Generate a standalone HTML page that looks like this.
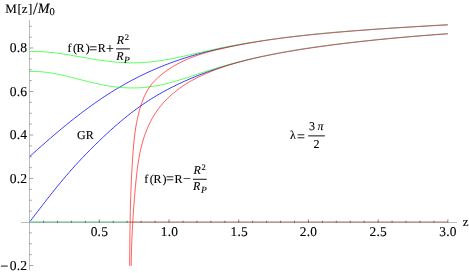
<!DOCTYPE html>
<html><head><meta charset="utf-8"><title>plot</title>
<style>html,body{margin:0;padding:0;background:#fff;}body{width:469px;height:273px;overflow:hidden;font-family:"Liberation Serif",serif;}svg{display:block;}</style>
</head><body>
<div style="will-change:transform;width:469px;height:273px">
<svg width="469" height="273" viewBox="0 0 469 273">
<rect width="469" height="273" fill="#fff"/>
<defs><linearGradient id="gg" gradientUnits="userSpaceOnUse" x1="215" y1="0" x2="265" y2="0"><stop offset="0" stop-color="#00ff00"/><stop offset="1" stop-color="#00ff00" stop-opacity="0.6"/></linearGradient><linearGradient id="gb" gradientUnits="userSpaceOnUse" x1="215" y1="0" x2="265" y2="0"><stop offset="0" stop-color="#0000ff"/><stop offset="1" stop-color="#0000ff" stop-opacity="0.5"/></linearGradient><linearGradient id="gr" gradientUnits="userSpaceOnUse" x1="215" y1="0" x2="265" y2="0"><stop offset="0" stop-color="#ff0000"/><stop offset="1" stop-color="#ff0000" stop-opacity="0.78"/></linearGradient></defs>
<g fill="none" stroke-width="0.65" stroke-linecap="butt" stroke-linejoin="round">
<path stroke="url(#gb)" stroke-width="0.8" d="M29.85 156.41 L31.13 155.25 L32.41 154.09 L33.70 152.93 L34.99 151.78 L36.28 150.62 L37.57 149.46 L38.87 148.31 L40.17 147.16 L41.47 146.00 L42.77 144.85 L44.07 143.71 L45.38 142.56 L46.69 141.41 L48.00 140.27 L49.32 139.13 L50.63 137.99 L51.95 136.86 L53.27 135.72 L54.60 134.59 L55.93 133.46 L57.26 132.34 L58.59 131.22 L59.93 130.10 L61.26 128.98 L62.61 127.87 L63.95 126.76 L65.30 125.65 L66.65 124.55 L68.00 123.45 L69.36 122.35 L70.72 121.26 L72.09 120.18 L73.45 119.09 L74.82 118.01 L76.20 116.94 L77.58 115.87 L78.96 114.81 L80.34 113.75 L81.73 112.69 L83.12 111.64 L84.52 110.60 L85.92 109.56 L87.32 108.52 L88.73 107.49 L90.14 106.47 L91.55 105.45 L92.97 104.44 L94.39 103.44 L95.82 102.44 L97.25 101.44 L98.69 100.46 L100.12 99.48 L101.57 98.50 L103.02 97.53 L104.47 96.57 L105.92 95.62 L107.38 94.67 L108.85 93.73 L110.32 92.80 L111.79 91.88 L113.27 90.96 L114.76 90.05 L116.24 89.15 L117.74 88.25 L119.23 87.36 L120.73 86.49 L122.24 85.61 L123.75 84.75 L125.27 83.89 L126.78 83.05 L128.31 82.21 L129.84 81.38 L131.37 80.55 L132.91 79.74 L134.45 78.93 L135.99 78.13 L137.54 77.35 L139.10 76.56 L140.65 75.79 L142.22 75.03 L143.78 74.27 L145.36 73.53 L146.93 72.79 L148.51 72.06 L150.10 71.34 L151.68 70.63 L153.27 69.93 L154.87 69.24 L156.47 68.55 L158.07 67.88 L159.68 67.21 L161.29 66.55 L162.90 65.90 L164.52 65.26 L166.14 64.63 L167.77 64.00 L169.40 63.39 L171.03 62.78 L172.66 62.18 L174.30 61.59 L175.94 61.01 L177.58 60.43 L179.23 59.87 L180.88 59.31 L182.53 58.76 L184.19 58.22 L185.84 57.69 L187.50 57.17 L189.17 56.65 L190.83 56.15 L192.50 55.65 L194.17 55.16 L195.84 54.68 L197.52 54.20 L199.19 53.74 L200.87 53.28 L202.56 52.83 L204.24 52.39 L205.92 51.95 L207.61 51.52 L209.30 51.10 L210.99 50.69 L212.68 50.28 L214.38 49.88 L216.07 49.49 L217.77 49.10 L219.47 48.72 L221.17 48.34 L222.87 47.97 L224.58 47.61 L226.28 47.25 L227.99 46.90 L229.69 46.56 L231.40 46.21 L233.11 45.88 L234.82 45.55 L236.53 45.22 L238.24 44.90 L239.95 44.58 L241.67 44.27 L243.38 43.96 L245.10 43.65 L246.81 43.35 L248.53 43.06 L250.24 42.76 L251.96 42.47 L253.68 42.19 L255.39 41.91 L257.11 41.63 L258.83 41.35 L260.55 41.08 L262.27 40.82 L263.99 40.55 L265.71 40.29 L267.43 40.04 L269.15 39.78 L270.88 39.53 L272.60 39.29 L274.32 39.04 L276.05 38.80 L277.77 38.57 L279.50 38.33 L281.22 38.10 L282.95 37.88 L284.67 37.65 L286.40 37.43 L288.12 37.22 L289.85 37.00 L291.58 36.79 L293.31 36.58 L295.04 36.37 L296.76 36.17 L298.49 35.97 L300.22 35.77 L301.95 35.58 L303.68 35.38 L305.41 35.19 L307.14 35.01 L308.88 34.82 L310.61 34.64 L312.34 34.46 L314.07 34.28 L315.80 34.11 L317.54 33.93 L319.27 33.76 L321.00 33.60 L322.73 33.43 L324.47 33.27 L326.20 33.10 L327.94 32.94 L329.67 32.79 L331.41 32.63 L333.14 32.48 L334.87 32.32 L336.61 32.17 L338.35 32.03 L340.08 31.88 L341.82 31.74 L343.55 31.59 L345.29 31.45 L347.03 31.31 L348.76 31.17 L350.50 31.04 L352.24 30.90 L353.97 30.77 L355.71 30.64 L357.45 30.51 L359.18 30.38 L360.92 30.25 L362.66 30.12 L364.40 30.00 L366.13 29.88 L367.87 29.75 L369.61 29.63 L371.35 29.51 L373.08 29.39 L374.82 29.27 L376.56 29.15 L378.30 29.04 L380.04 28.92 L381.77 28.81 L383.51 28.69 L385.25 28.58 L386.99 28.47 L388.73 28.35 L390.46 28.24 L392.20 28.13 L393.94 28.02 L395.68 27.91 L397.42 27.80 L399.15 27.69 L400.89 27.59 L402.63 27.48 L404.37 27.37 L406.10 27.26 L407.84 27.16 L409.58 27.05 L411.32 26.94 L413.05 26.83 L414.79 26.73 L416.53 26.62 L418.26 26.51 L420.00 26.41 L421.74 26.30 L423.47 26.19 L425.21 26.09 L426.95 25.98 L428.68 25.87 L430.42 25.77 L432.15 25.66 L433.89 25.55 L435.62 25.44 L437.36 25.33 L439.09 25.22 L440.83 25.11 L442.56 25.00 L444.29 24.89 L446.03 24.78 L447.76 24.66"/>
<path stroke="url(#gb)" stroke-width="0.8" d="M29.77 221.86 L30.89 220.38 L32.01 218.90 L33.13 217.42 L34.25 215.94 L35.38 214.46 L36.50 212.98 L37.63 211.51 L38.75 210.03 L39.88 208.56 L41.01 207.08 L42.14 205.61 L43.27 204.14 L44.41 202.67 L45.55 201.21 L46.68 199.75 L47.83 198.28 L48.97 196.83 L50.12 195.37 L51.27 193.92 L52.42 192.46 L53.58 191.02 L54.74 189.57 L55.91 188.13 L57.07 186.69 L58.25 185.26 L59.42 183.83 L60.60 182.40 L61.79 180.97 L62.98 179.55 L64.17 178.14 L65.37 176.73 L66.57 175.32 L67.78 173.92 L68.99 172.52 L70.21 171.12 L71.44 169.73 L72.67 168.35 L73.91 166.97 L75.15 165.60 L76.40 164.23 L77.65 162.87 L78.91 161.51 L80.17 160.15 L81.44 158.80 L82.72 157.46 L84.00 156.12 L85.29 154.78 L86.58 153.45 L87.87 152.12 L89.17 150.80 L90.48 149.48 L91.79 148.17 L93.10 146.86 L94.43 145.56 L95.75 144.26 L97.08 142.96 L98.41 141.67 L99.75 140.38 L101.09 139.09 L102.44 137.81 L103.79 136.54 L105.15 135.27 L106.51 134.00 L107.87 132.74 L109.24 131.48 L110.62 130.23 L112.00 128.99 L113.39 127.75 L114.78 126.52 L116.18 125.29 L117.58 124.08 L118.99 122.86 L120.40 121.66 L121.82 120.47 L123.25 119.28 L124.68 118.10 L126.12 116.93 L127.57 115.77 L129.02 114.62 L130.48 113.48 L131.95 112.35 L133.43 111.22 L134.91 110.11 L136.40 109.01 L137.89 107.92 L139.40 106.84 L140.91 105.77 L142.43 104.72 L143.96 103.67 L145.49 102.64 L147.04 101.62 L148.59 100.61 L150.14 99.61 L151.71 98.62 L153.28 97.64 L154.86 96.68 L156.45 95.73 L158.04 94.79 L159.64 93.86 L161.25 92.94 L162.87 92.04 L164.49 91.14 L166.12 90.26 L167.75 89.39 L169.39 88.53 L171.04 87.68 L172.70 86.85 L174.36 86.02 L176.02 85.21 L177.69 84.40 L179.37 83.61 L181.05 82.83 L182.74 82.05 L184.43 81.29 L186.13 80.54 L187.83 79.79 L189.53 79.06 L191.24 78.34 L192.95 77.62 L194.67 76.91 L196.39 76.22 L198.11 75.53 L199.84 74.85 L201.57 74.18 L203.30 73.52 L205.04 72.87 L206.78 72.22 L208.53 71.59 L210.27 70.96 L212.02 70.35 L213.78 69.74 L215.53 69.14 L217.29 68.55 L219.06 67.97 L220.82 67.39 L222.59 66.83 L224.36 66.27 L226.13 65.72 L227.90 65.18 L229.68 64.65 L231.46 64.13 L233.24 63.62 L235.02 63.11 L236.81 62.61 L238.60 62.12 L240.39 61.64 L242.18 61.16 L243.97 60.70 L245.76 60.24 L247.56 59.78 L249.36 59.34 L251.16 58.90 L252.96 58.47 L254.76 58.04 L256.57 57.63 L258.37 57.22 L260.18 56.81 L261.99 56.41 L263.80 56.02 L265.61 55.64 L267.43 55.26 L269.24 54.89 L271.06 54.52 L272.88 54.16 L274.70 53.80 L276.52 53.45 L278.34 53.11 L280.16 52.77 L281.99 52.44 L283.81 52.11 L285.64 51.78 L287.46 51.47 L289.29 51.15 L291.12 50.84 L292.95 50.54 L294.78 50.24 L296.61 49.94 L298.45 49.65 L300.28 49.36 L302.11 49.08 L303.95 48.80 L305.78 48.52 L307.62 48.25 L309.46 47.98 L311.29 47.72 L313.13 47.46 L314.97 47.20 L316.81 46.94 L318.65 46.69 L320.49 46.44 L322.33 46.19 L324.17 45.95 L326.01 45.71 L327.85 45.47 L329.69 45.23 L331.53 44.99 L333.37 44.76 L335.22 44.53 L337.06 44.30 L338.90 44.07 L340.74 43.85 L342.58 43.62 L344.43 43.40 L346.27 43.18 L348.11 42.96 L349.95 42.74 L351.79 42.53 L353.63 42.31 L355.48 42.10 L357.32 41.89 L359.16 41.68 L361.00 41.47 L362.85 41.27 L364.69 41.06 L366.53 40.86 L368.37 40.66 L370.22 40.46 L372.06 40.26 L373.90 40.06 L375.75 39.87 L377.59 39.68 L379.43 39.49 L381.28 39.30 L383.12 39.11 L384.96 38.92 L386.81 38.74 L388.65 38.56 L390.50 38.38 L392.34 38.20 L394.19 38.02 L396.03 37.85 L397.88 37.68 L399.72 37.51 L401.57 37.34 L403.41 37.17 L405.26 37.00 L407.11 36.84 L408.95 36.68 L410.80 36.52 L412.65 36.36 L414.50 36.21 L416.35 36.05 L418.19 35.90 L420.04 35.75 L421.89 35.60 L423.74 35.46 L425.59 35.31 L427.44 35.17 L429.29 35.03 L431.14 34.89 L432.99 34.76 L434.85 34.62 L436.70 34.49 L438.55 34.36 L440.40 34.23 L442.26 34.11 L444.11 33.98 L445.96 33.86 L447.82 33.74"/>
<path stroke="url(#gg)" d="M29.86 51.50 L31.48 51.47 L33.10 51.45 L34.72 51.46 L36.34 51.48 L37.96 51.53 L39.58 51.59 L41.20 51.66 L42.82 51.76 L44.43 51.87 L46.05 51.99 L47.66 52.13 L49.28 52.28 L50.89 52.44 L52.51 52.62 L54.12 52.81 L55.73 53.00 L57.34 53.21 L58.96 53.43 L60.57 53.66 L62.18 53.89 L63.79 54.14 L65.40 54.38 L67.01 54.64 L68.63 54.90 L70.24 55.17 L71.85 55.44 L73.46 55.71 L75.07 55.98 L76.68 56.26 L78.30 56.54 L79.91 56.82 L81.52 57.10 L83.13 57.38 L84.75 57.66 L86.36 57.94 L87.97 58.22 L89.58 58.49 L91.20 58.76 L92.81 59.03 L94.43 59.29 L96.04 59.55 L97.65 59.80 L99.27 60.05 L100.88 60.29 L102.50 60.52 L104.11 60.75 L105.73 60.96 L107.35 61.17 L108.96 61.37 L110.58 61.56 L112.19 61.73 L113.81 61.90 L115.43 62.05 L117.04 62.19 L118.66 62.32 L120.28 62.44 L121.90 62.54 L123.52 62.62 L125.13 62.70 L126.75 62.75 L128.37 62.80 L129.99 62.83 L131.60 62.84 L133.22 62.85 L134.84 62.83 L136.46 62.80 L138.07 62.76 L139.69 62.70 L141.30 62.63 L142.92 62.54 L144.53 62.44 L146.15 62.32 L147.76 62.19 L149.37 62.04 L150.98 61.88 L152.59 61.70 L154.20 61.51 L155.81 61.31 L157.42 61.10 L159.02 60.87 L160.63 60.63 L162.23 60.38 L163.84 60.12 L165.44 59.85 L167.04 59.57 L168.64 59.28 L170.24 58.98 L171.84 58.67 L173.44 58.36 L175.04 58.04 L176.64 57.71 L178.23 57.38 L179.83 57.04 L181.43 56.69 L183.02 56.34 L184.62 55.99 L186.21 55.64 L187.81 55.28 L189.40 54.92 L190.99 54.56 L192.59 54.19 L194.18 53.83 L195.77 53.47 L197.36 53.11 L198.96 52.74 L200.55 52.38 L202.14 52.02 L203.73 51.67 L205.33 51.31 L206.92 50.95 L208.51 50.60 L210.10 50.25 L211.70 49.90 L213.29 49.56 L214.88 49.21 L216.48 48.87 L218.07 48.54 L219.67 48.20 L221.26 47.87 L222.86 47.55 L224.46 47.23 L226.05 46.91 L227.65 46.59 L229.25 46.28 L230.85 45.97 L232.45 45.67 L234.05 45.37 L235.65 45.07 L237.25 44.77 L238.85 44.48 L240.45 44.20 L242.06 43.91 L243.66 43.63 L245.26 43.35 L246.87 43.08 L248.47 42.81 L250.08 42.54 L251.68 42.27 L253.29 42.01 L254.90 41.75 L256.50 41.50 L258.11 41.25 L259.72 41.00 L261.33 40.75 L262.94 40.51 L264.55 40.27 L266.15 40.03 L267.76 39.80 L269.38 39.56 L270.99 39.33 L272.60 39.11 L274.21 38.88 L275.82 38.66 L277.43 38.45 L279.05 38.23 L280.66 38.02 L282.27 37.81 L283.89 37.60 L285.50 37.39 L287.12 37.19 L288.73 36.99 L290.35 36.79 L291.96 36.60 L293.58 36.41 L295.19 36.22 L296.81 36.03 L298.43 35.84 L300.04 35.66 L301.66 35.48 L303.28 35.30 L304.90 35.12 L306.52 34.95 L308.14 34.77 L309.75 34.60 L311.37 34.43 L312.99 34.27 L314.61 34.10 L316.23 33.94 L317.85 33.78 L319.47 33.62 L321.09 33.46 L322.71 33.31 L324.34 33.16 L325.96 33.00 L327.58 32.85 L329.20 32.71 L330.82 32.56 L332.44 32.42 L334.07 32.27 L335.69 32.13 L337.31 31.99 L338.94 31.85 L340.56 31.72 L342.18 31.58 L343.81 31.45 L345.43 31.32 L347.05 31.18 L348.68 31.06 L350.30 30.93 L351.92 30.80 L353.55 30.67 L355.17 30.55 L356.80 30.43 L358.42 30.31 L360.05 30.18 L361.67 30.06 L363.30 29.95 L364.92 29.83 L366.55 29.71 L368.17 29.60 L369.80 29.48 L371.42 29.37 L373.05 29.26 L374.67 29.14 L376.30 29.03 L377.92 28.92 L379.55 28.81 L381.17 28.71 L382.80 28.60 L384.42 28.49 L386.05 28.38 L387.67 28.28 L389.30 28.17 L390.93 28.07 L392.55 27.96 L394.18 27.86 L395.80 27.76 L397.43 27.66 L399.05 27.55 L400.68 27.45 L402.30 27.35 L403.93 27.25 L405.55 27.15 L407.18 27.05 L408.80 26.95 L410.43 26.85 L412.05 26.75 L413.68 26.65 L415.30 26.55 L416.93 26.45 L418.55 26.35 L420.18 26.25 L421.80 26.15 L423.42 26.05 L425.05 25.96 L426.67 25.86 L428.30 25.76 L429.92 25.66 L431.54 25.56 L433.17 25.46 L434.79 25.36 L436.41 25.26 L438.04 25.16 L439.66 25.06 L441.28 24.95 L442.90 24.85 L444.53 24.75 L446.15 24.65 L447.77 24.55"/>
<path stroke="url(#gg)" d="M29.57 71.45 L31.21 71.41 L32.85 71.40 L34.49 71.42 L36.13 71.46 L37.76 71.53 L39.39 71.63 L41.02 71.75 L42.64 71.90 L44.26 72.06 L45.88 72.25 L47.50 72.46 L49.12 72.69 L50.73 72.94 L52.35 73.20 L53.96 73.49 L55.57 73.78 L57.18 74.10 L58.79 74.42 L60.40 74.76 L62.00 75.11 L63.61 75.47 L65.21 75.84 L66.82 76.22 L68.42 76.60 L70.03 76.99 L71.63 77.39 L73.24 77.80 L74.84 78.20 L76.45 78.61 L78.05 79.02 L79.66 79.44 L81.26 79.85 L82.87 80.26 L84.48 80.67 L86.08 81.08 L87.69 81.49 L89.30 81.89 L90.91 82.28 L92.52 82.67 L94.13 83.05 L95.74 83.42 L97.35 83.78 L98.97 84.14 L100.58 84.48 L102.20 84.81 L103.81 85.13 L105.43 85.43 L107.05 85.72 L108.68 85.99 L110.30 86.25 L111.92 86.49 L113.55 86.71 L115.18 86.91 L116.81 87.10 L118.44 87.26 L120.07 87.41 L121.70 87.55 L123.33 87.66 L124.96 87.75 L126.60 87.83 L128.23 87.89 L129.86 87.93 L131.49 87.95 L133.12 87.95 L134.75 87.93 L136.38 87.89 L138.01 87.83 L139.63 87.76 L141.26 87.66 L142.88 87.55 L144.50 87.41 L146.12 87.26 L147.74 87.08 L149.35 86.89 L150.96 86.67 L152.57 86.44 L154.18 86.18 L155.78 85.91 L157.38 85.62 L158.98 85.31 L160.58 84.98 L162.17 84.63 L163.76 84.28 L165.35 83.90 L166.94 83.51 L168.53 83.11 L170.11 82.70 L171.69 82.27 L173.27 81.83 L174.85 81.38 L176.43 80.92 L178.01 80.46 L179.59 79.98 L181.16 79.50 L182.74 79.00 L184.31 78.51 L185.88 78.00 L187.46 77.50 L189.03 76.98 L190.60 76.47 L192.17 75.95 L193.74 75.43 L195.31 74.91 L196.89 74.38 L198.46 73.86 L200.03 73.34 L201.60 72.82 L203.18 72.30 L204.75 71.79 L206.32 71.27 L207.90 70.77 L209.48 70.26 L211.05 69.77 L212.63 69.28 L214.21 68.79 L215.79 68.31 L217.37 67.83 L218.95 67.36 L220.54 66.89 L222.12 66.43 L223.71 65.98 L225.29 65.53 L226.88 65.08 L228.47 64.64 L230.06 64.20 L231.65 63.77 L233.24 63.34 L234.83 62.92 L236.42 62.50 L238.01 62.09 L239.61 61.68 L241.20 61.27 L242.80 60.87 L244.39 60.48 L245.99 60.09 L247.59 59.70 L249.19 59.32 L250.78 58.94 L252.38 58.57 L253.99 58.20 L255.59 57.83 L257.19 57.47 L258.79 57.11 L260.40 56.76 L262.00 56.41 L263.61 56.07 L265.21 55.72 L266.82 55.39 L268.43 55.05 L270.04 54.72 L271.65 54.40 L273.26 54.08 L274.87 53.76 L276.48 53.44 L278.09 53.13 L279.70 52.83 L281.31 52.52 L282.93 52.22 L284.54 51.93 L286.16 51.63 L287.77 51.34 L289.39 51.06 L291.00 50.77 L292.62 50.50 L294.24 50.22 L295.86 49.95 L297.48 49.68 L299.10 49.41 L300.72 49.15 L302.34 48.89 L303.96 48.63 L305.58 48.37 L307.20 48.12 L308.83 47.87 L310.45 47.63 L312.07 47.38 L313.70 47.14 L315.32 46.91 L316.95 46.67 L318.57 46.44 L320.20 46.21 L321.82 45.99 L323.45 45.76 L325.08 45.54 L326.71 45.32 L328.34 45.10 L329.96 44.89 L331.59 44.68 L333.22 44.47 L334.85 44.26 L336.48 44.06 L338.11 43.86 L339.74 43.66 L341.38 43.46 L343.01 43.26 L344.64 43.07 L346.27 42.88 L347.90 42.69 L349.54 42.50 L351.17 42.31 L352.80 42.13 L354.44 41.95 L356.07 41.77 L357.71 41.59 L359.34 41.41 L360.98 41.24 L362.61 41.06 L364.25 40.89 L365.88 40.72 L367.52 40.55 L369.16 40.39 L370.79 40.22 L372.43 40.06 L374.07 39.90 L375.70 39.73 L377.34 39.57 L378.98 39.42 L380.62 39.26 L382.25 39.10 L383.89 38.95 L385.53 38.79 L387.17 38.64 L388.81 38.49 L390.44 38.34 L392.08 38.19 L393.72 38.04 L395.36 37.89 L397.00 37.75 L398.64 37.60 L400.28 37.46 L401.92 37.31 L403.56 37.17 L405.19 37.02 L406.83 36.88 L408.47 36.74 L410.11 36.60 L411.75 36.46 L413.39 36.32 L415.03 36.18 L416.67 36.04 L418.31 35.90 L419.95 35.76 L421.59 35.62 L423.23 35.49 L424.87 35.35 L426.51 35.21 L428.15 35.07 L429.78 34.94 L431.42 34.80 L433.06 34.66 L434.70 34.52 L436.34 34.39 L437.98 34.25 L439.62 34.11 L441.26 33.97 L442.89 33.84 L444.53 33.70 L446.17 33.56 L447.81 33.42"/>
</g>
<rect x="30" y="221" width="99.5" height="1" fill="#acdcc6"/>
<rect x="30" y="222" width="99.5" height="1" fill="#90bca2"/>
<rect x="129.5" y="221" width="318.3" height="1" fill="#cdbbb0"/>
<rect x="129.5" y="222" width="318.3" height="1" fill="#b99a90"/>
<g fill="none" stroke-width="0.65" stroke-linecap="butt" stroke-linejoin="round">
<path stroke="url(#gr)" d="M129.63 265.81 L129.65 263.90 L129.66 261.99 L129.67 260.08 L129.69 258.17 L129.70 256.26 L129.72 254.35 L129.73 252.44 L129.75 250.54 L129.77 248.63 L129.78 246.73 L129.80 244.82 L129.82 242.92 L129.84 241.01 L129.86 239.11 L129.88 237.21 L129.91 235.31 L129.93 233.41 L129.96 231.51 L129.98 229.61 L130.01 227.71 L130.04 225.81 L130.07 223.91 L130.10 222.01 L130.14 220.12 L130.17 218.22 L130.21 216.32 L130.25 214.42 L130.29 212.53 L130.34 210.63 L130.38 208.73 L130.43 206.84 L130.48 204.94 L130.53 203.04 L130.59 201.15 L130.65 199.25 L130.71 197.36 L130.77 195.46 L130.83 193.56 L130.90 191.67 L130.97 189.77 L131.05 187.87 L131.12 185.98 L131.20 184.08 L131.29 182.18 L131.37 180.28 L131.46 178.38 L131.56 176.49 L131.65 174.59 L131.75 172.69 L131.85 170.79 L131.96 168.89 L132.07 166.99 L132.19 165.08 L132.30 163.18 L132.42 161.28 L132.55 159.38 L132.68 157.47 L132.81 155.57 L132.95 153.66 L133.10 151.76 L133.24 149.85 L133.40 147.95 L133.56 146.04 L133.74 144.14 L133.92 142.23 L134.11 140.33 L134.32 138.43 L134.53 136.53 L134.76 134.64 L135.01 132.75 L135.27 130.86 L135.55 128.97 L135.84 127.09 L136.15 125.22 L136.49 123.35 L136.84 121.48 L137.21 119.62 L137.61 117.76 L138.03 115.91 L138.47 114.07 L138.94 112.23 L139.43 110.40 L139.95 108.58 L140.50 106.77 L141.08 104.96 L141.69 103.17 L142.33 101.38 L143.01 99.61 L143.73 97.86 L144.49 96.12 L145.29 94.41 L146.14 92.72 L147.05 91.07 L148.00 89.44 L149.02 87.85 L150.09 86.30 L151.23 84.78 L152.43 83.31 L153.69 81.88 L155.00 80.49 L156.35 79.13 L157.75 77.82 L159.19 76.54 L160.65 75.29 L162.14 74.08 L163.65 72.90 L165.18 71.75 L166.72 70.64 L168.29 69.55 L169.87 68.50 L171.48 67.47 L173.09 66.48 L174.73 65.51 L176.38 64.58 L178.04 63.67 L179.72 62.79 L181.42 61.94 L183.12 61.11 L184.84 60.31 L186.57 59.54 L188.32 58.79 L190.07 58.06 L191.83 57.37 L193.61 56.69 L195.39 56.04 L197.18 55.41 L198.98 54.80 L200.79 54.22 L202.60 53.65 L204.43 53.10 L206.25 52.57 L208.08 52.06 L209.92 51.56 L211.76 51.07 L213.61 50.60 L215.46 50.14 L217.31 49.69 L219.16 49.25 L221.02 48.82 L222.88 48.39 L224.74 47.98 L226.60 47.57 L228.46 47.16 L230.32 46.77 L232.18 46.38 L234.05 45.99 L235.91 45.62 L237.78 45.25 L239.65 44.88 L241.51 44.52 L243.38 44.17 L245.25 43.83 L247.13 43.49 L249.00 43.15 L250.87 42.83 L252.75 42.50 L254.62 42.19 L256.50 41.88 L258.37 41.57 L260.25 41.27 L262.13 40.98 L264.01 40.69 L265.89 40.40 L267.77 40.12 L269.65 39.84 L271.53 39.57 L273.42 39.31 L275.30 39.05 L277.18 38.79 L279.07 38.54 L280.95 38.29 L282.84 38.04 L284.73 37.80 L286.61 37.57 L288.50 37.34 L290.39 37.11 L292.28 36.88 L294.17 36.66 L296.06 36.44 L297.95 36.23 L299.84 36.02 L301.73 35.81 L303.62 35.60 L305.51 35.40 L307.41 35.20 L309.30 35.01 L311.19 34.81 L313.09 34.62 L314.98 34.43 L316.87 34.25 L318.77 34.07 L320.66 33.88 L322.56 33.71 L324.45 33.53 L326.35 33.35 L328.24 33.18 L330.14 33.01 L332.03 32.84 L333.93 32.67 L335.82 32.51 L337.72 32.34 L339.62 32.18 L341.51 32.01 L343.41 31.85 L345.30 31.69 L347.20 31.53 L349.10 31.38 L350.99 31.22 L352.89 31.06 L354.78 30.91 L356.68 30.76 L358.58 30.61 L360.47 30.46 L362.37 30.31 L364.26 30.16 L366.16 30.01 L368.06 29.87 L369.95 29.72 L371.85 29.58 L373.75 29.44 L375.64 29.30 L377.54 29.16 L379.44 29.02 L381.33 28.89 L383.23 28.75 L385.13 28.62 L387.03 28.49 L388.92 28.36 L390.82 28.23 L392.72 28.10 L394.62 27.97 L396.51 27.85 L398.41 27.72 L400.31 27.60 L402.21 27.48 L404.11 27.36 L406.01 27.24 L407.90 27.13 L409.80 27.01 L411.70 26.90 L413.60 26.79 L415.50 26.68 L417.40 26.57 L419.30 26.46 L421.20 26.35 L423.10 26.25 L425.00 26.14 L426.90 26.04 L428.80 25.94 L430.70 25.84 L432.60 25.74 L434.50 25.65 L436.40 25.55 L438.30 25.46 L440.20 25.37 L442.10 25.28 L444.00 25.19 L445.91 25.10 L447.81 25.02"/>
<path stroke="url(#gr)" d="M131.19 265.82 L131.21 263.99 L131.24 262.17 L131.27 260.35 L131.31 258.54 L131.35 256.72 L131.39 254.91 L131.44 253.10 L131.49 251.29 L131.54 249.48 L131.59 247.68 L131.65 245.88 L131.72 244.08 L131.78 242.28 L131.85 240.48 L131.92 238.68 L132.00 236.88 L132.08 235.09 L132.16 233.29 L132.25 231.50 L132.34 229.71 L132.43 227.92 L132.53 226.12 L132.63 224.33 L132.73 222.54 L132.83 220.75 L132.94 218.96 L133.05 217.17 L133.17 215.38 L133.29 213.59 L133.41 211.80 L133.53 210.01 L133.66 208.21 L133.79 206.42 L133.93 204.63 L134.06 202.83 L134.21 201.04 L134.35 199.24 L134.50 197.44 L134.64 195.65 L134.80 193.85 L134.95 192.05 L135.11 190.24 L135.27 188.44 L135.44 186.63 L135.61 184.82 L135.78 183.01 L135.95 181.20 L136.13 179.39 L136.32 177.58 L136.52 175.77 L136.72 173.96 L136.93 172.15 L137.15 170.34 L137.38 168.54 L137.62 166.73 L137.88 164.93 L138.14 163.13 L138.42 161.33 L138.72 159.54 L139.03 157.75 L139.35 155.97 L139.69 154.19 L140.05 152.42 L140.43 150.65 L140.83 148.89 L141.24 147.13 L141.68 145.38 L142.14 143.64 L142.62 141.91 L143.13 140.18 L143.66 138.46 L144.21 136.75 L144.79 135.05 L145.39 133.36 L146.02 131.68 L146.68 130.01 L147.37 128.35 L148.09 126.70 L148.83 125.07 L149.61 123.45 L150.41 121.84 L151.24 120.25 L152.10 118.68 L152.99 117.12 L153.91 115.58 L154.86 114.06 L155.84 112.56 L156.85 111.08 L157.88 109.62 L158.95 108.18 L160.05 106.76 L161.17 105.37 L162.32 103.99 L163.50 102.64 L164.71 101.31 L165.94 100.01 L167.19 98.73 L168.48 97.48 L169.78 96.25 L171.11 95.04 L172.46 93.86 L173.84 92.71 L175.23 91.58 L176.65 90.47 L178.08 89.38 L179.54 88.32 L181.01 87.28 L182.50 86.26 L184.01 85.26 L185.53 84.29 L187.07 83.33 L188.62 82.40 L190.19 81.48 L191.77 80.59 L193.36 79.71 L194.97 78.86 L196.58 78.02 L198.21 77.20 L199.84 76.40 L201.49 75.62 L203.14 74.85 L204.79 74.11 L206.46 73.38 L208.13 72.66 L209.80 71.96 L211.48 71.28 L213.16 70.61 L214.85 69.96 L216.54 69.32 L218.24 68.70 L219.94 68.09 L221.64 67.49 L223.35 66.91 L225.06 66.34 L226.78 65.78 L228.49 65.24 L230.22 64.71 L231.94 64.19 L233.67 63.68 L235.40 63.18 L237.13 62.69 L238.87 62.21 L240.61 61.74 L242.35 61.29 L244.10 60.84 L245.85 60.40 L247.59 59.97 L249.35 59.54 L251.10 59.13 L252.86 58.72 L254.61 58.32 L256.37 57.92 L258.13 57.54 L259.90 57.15 L261.66 56.78 L263.42 56.41 L265.19 56.04 L266.96 55.68 L268.73 55.33 L270.49 54.98 L272.26 54.63 L274.04 54.29 L275.81 53.95 L277.58 53.61 L279.35 53.28 L281.13 52.96 L282.90 52.63 L284.68 52.31 L286.45 52.00 L288.23 51.69 L290.01 51.38 L291.79 51.07 L293.57 50.77 L295.35 50.47 L297.13 50.18 L298.91 49.89 L300.69 49.60 L302.47 49.32 L304.25 49.04 L306.04 48.76 L307.82 48.49 L309.61 48.22 L311.39 47.95 L313.18 47.68 L314.96 47.42 L316.75 47.16 L318.53 46.91 L320.32 46.65 L322.11 46.40 L323.90 46.16 L325.68 45.91 L327.47 45.67 L329.26 45.43 L331.05 45.19 L332.84 44.95 L334.63 44.72 L336.42 44.49 L338.21 44.26 L340.00 44.04 L341.79 43.82 L343.58 43.60 L345.38 43.38 L347.17 43.16 L348.96 42.95 L350.75 42.74 L352.54 42.53 L354.34 42.32 L356.13 42.11 L357.92 41.91 L359.72 41.71 L361.51 41.51 L363.31 41.31 L365.10 41.12 L366.90 40.93 L368.69 40.74 L370.48 40.55 L372.28 40.36 L374.08 40.18 L375.87 39.99 L377.67 39.81 L379.46 39.63 L381.26 39.45 L383.06 39.28 L384.85 39.10 L386.65 38.93 L388.45 38.76 L390.24 38.59 L392.04 38.42 L393.84 38.25 L395.63 38.09 L397.43 37.93 L399.23 37.76 L401.03 37.60 L402.82 37.45 L404.62 37.29 L406.42 37.13 L408.22 36.98 L410.02 36.82 L411.82 36.67 L413.61 36.52 L415.41 36.37 L417.21 36.22 L419.01 36.08 L420.81 35.93 L422.61 35.78 L424.41 35.64 L426.21 35.50 L428.01 35.36 L429.80 35.22 L431.60 35.08 L433.40 34.94 L435.20 34.80 L437.00 34.66 L438.80 34.53 L440.60 34.39 L442.40 34.26 L444.20 34.13 L446.00 33.99 L447.80 33.86"/>
</g>
<g stroke="#666" stroke-width="0.44" fill="none">
<path d="M21 222.5H30M447.8 222.5H457"/>
<path d="M29.5 20V270.3"/>
</g>
<g stroke="#666" stroke-width="0.6" fill="none">
<path d="M43.54 222.8v-2.1M57.48 222.8v-2.1M71.43 222.8v-2.1M85.37 222.8v-2.1M99.31 222.8v-3.4M113.25 222.8v-2.1M127.19 222.8v-2.1M141.14 222.8v-2.1M155.08 222.8v-2.1M169.02 222.8v-3.4M182.96 222.8v-2.1M196.90 222.8v-2.1M210.85 222.8v-2.1M224.79 222.8v-2.1M238.73 222.8v-3.4M252.67 222.8v-2.1M266.61 222.8v-2.1M280.56 222.8v-2.1M294.50 222.8v-2.1M308.44 222.8v-3.4M322.38 222.8v-2.1M336.32 222.8v-2.1M350.27 222.8v-2.1M364.21 222.8v-2.1M378.15 222.8v-3.4M392.09 222.8v-2.1M406.03 222.8v-2.1M419.98 222.8v-2.1M433.92 222.8v-2.1M447.86 222.8v-3.4" stroke="#4a4a4a" stroke-width="0.7"/>
<path d="M29.6 265.50h3.6M29.6 254.62h2.2M29.6 243.75h2.2M29.6 232.88h2.2M29.6 211.12h2.2M29.6 200.25h2.2M29.6 189.38h2.2M29.6 178.50h3.6M29.6 167.62h2.2M29.6 156.75h2.2M29.6 145.88h2.2M29.6 135.00h3.6M29.6 124.12h2.2M29.6 113.25h2.2M29.6 102.37h2.2M29.6 91.50h3.6M29.6 80.62h2.2M29.6 69.75h2.2M29.6 58.88h2.2M29.6 48.00h3.6M29.6 37.12h2.2M29.6 26.25h2.2"/>
</g>
<g font-family="Liberation Serif, serif" fill="#000" stroke="#000" stroke-width="0.12" text-rendering="geometricPrecision">
<g font-size="13px">
<text y="13.1"><tspan x="5.2">M</tspan><tspan x="17.4">[</tspan><tspan x="21.8">z</tspan><tspan x="27.9">]</tspan></text>
<text x="32.9" y="14.4" font-size="17px">/</text>
<text x="37.7" y="12.9" font-size="14px" font-style="italic">M</text>
<text x="49.6" y="14.7" font-size="10.5px">0</text>
<text x="27.3" y="52.20" text-anchor="end" letter-spacing="0.2" font-size="13.6px">0.8</text>
<text x="27.3" y="95.70" text-anchor="end" letter-spacing="0.2" font-size="13.6px">0.6</text>
<text x="27.3" y="139.20" text-anchor="end" letter-spacing="0.2" font-size="13.6px">0.4</text>
<text x="27.3" y="182.70" text-anchor="end" letter-spacing="0.2" font-size="13.6px">0.2</text>
<text x="27.3" y="269.70" text-anchor="end" letter-spacing="0.2" font-size="13.6px">0.2</text>
<text x="0.3" y="271.10" font-size="14.5px">−</text>
<text x="99.36" y="236.3" text-anchor="middle" letter-spacing="0.2" font-size="13.4px">0.5</text>
<text x="169.52" y="236.3" text-anchor="middle" letter-spacing="0.2" font-size="13.4px">1.0</text>
<text x="239.23" y="236.3" text-anchor="middle" letter-spacing="0.2" font-size="13.4px">1.5</text>
<text x="308.49" y="236.3" text-anchor="middle" letter-spacing="0.2" font-size="13.4px">2.0</text>
<text x="378.20" y="236.3" text-anchor="middle" letter-spacing="0.2" font-size="13.4px">2.5</text>
<text x="447.91" y="236.3" text-anchor="middle" letter-spacing="0.2" font-size="13.4px">3.0</text>
<text x="462.8" y="225.5">z</text>
</g>
<g font-size="12px">
<text y="52.3"><tspan x="67.5">f</tspan><tspan x="73.0">(</tspan><tspan x="76.6">R</tspan><tspan x="85.7">)</tspan><tspan x="97.8">R</tspan></text><text y="52.8" font-size="14px"><tspan x="89.3">=</tspan><tspan x="106.1">+</tspan></text><rect x="116.2" y="48.4" width="13.7" height="0.9" fill="#222"/><text x="116.7" y="43.5" font-style="italic">R</text><text x="124.7" y="39.699999999999996" font-size="8.5px">2</text><text x="116.3" y="59.599999999999994" font-style="italic">R</text><text x="124.10000000000001" y="62.9" font-size="9.5px" font-style="italic">P</text>
<text y="182.8"><tspan x="144.3">f</tspan><tspan x="149.8">(</tspan><tspan x="153.4">R</tspan><tspan x="162.5">)</tspan><tspan x="174.60000000000002">R</tspan></text><text y="183.3" font-size="14px"><tspan x="166.10000000000002">=</tspan><tspan x="182.9">−</tspan></text><rect x="193.0" y="178.9" width="13.7" height="0.9" fill="#222"/><text x="193.5" y="174.0" font-style="italic">R</text><text x="201.5" y="170.20000000000002" font-size="8.5px">2</text><text x="193.1" y="190.10000000000002" font-style="italic">R</text><text x="200.9" y="193.4" font-size="9.5px" font-style="italic">P</text>
<text x="77.1" y="139.1">GR</text>
<text x="290" y="139.4">λ</text><text x="296.9" y="140.5" font-size="14px">=</text>
<rect x="308.3" y="135.4" width="16.6" height="0.9" fill="#222"/>
<text x="309" y="130.3">3</text><text x="317.5" y="130.3" font-style="italic">π</text>
<text x="313.5" y="148.3">2</text>
</g>
</g>
</svg>
</div>
</body></html>
